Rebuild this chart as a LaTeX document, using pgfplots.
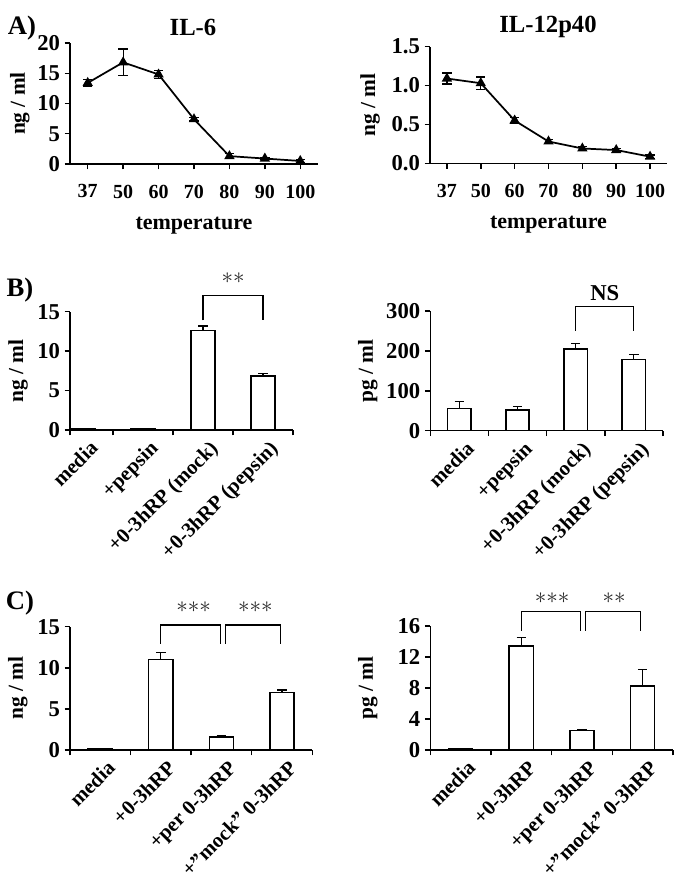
\documentclass[border=0pt]{standalone}
\usepackage{fontspec}
\setmainfont{Liberation Serif}
\usepackage{pgfplots}
\pgfplotsset{compat=1.18}
\pgfplotsset{
  base/.style={scale only axis, anchor=south west, clip=false,
    axis lines=left, axis line style={-, line width=1.1pt},
    tick style={line width=1.1pt, black}, tick align=outside,
    major tick length=4pt, minor tick length=4pt,
    /pgf/number format/assume math mode=true,
    yticklabel style={font=\fontsize{17}{17}\selectfont\bfseries},
    xticklabel style={font=\fontsize{15}{15}\selectfont\bfseries},
    xlabel style={font=\fontsize{16.5}{16.5}\selectfont\bfseries},
    ymin=0},
  ylab/.style={ylabel style={at={(axis description cs:#1,0.5)}, anchor=center,
    font=\fontsize{16}{16}\selectfont\bfseries}},
  lineax/.style={base, xmin=-0.5, xmax=6.5, xtick={0,...,6},
    xticklabels={37,50,60,70,80,90,100}, xlabel={temperature},
    xticklabel style={yshift=-8pt}, xlabel shift=7pt},
  linepl/.style={black, line width=1.3pt, mark=triangle*, mark size=3.2pt,
    mark options={fill=black, solid},
    error bars/.cd, y dir=both, y explicit,
    error bar style={line width=0.9pt},
    error mark options={rotate=90, mark size=3.5pt, line width=0.9pt}},
  barax/.style={base, xmin=-0.5, xmax=3.5, xtick={0,...,3},
    major x tick style={draw=none}, minor xtick={-0.5,0.5,1.5,2.5,3.5},
    xticklabel style={rotate=45, anchor=north east, inner sep=1pt,
      yshift=-4pt, xshift=2pt,
      font=\fontsize{15.5}{15.5}\selectfont\bfseries}},
  barpl/.style={ybar, bar width=0.4, fill=white, draw=black, line width=1.1pt,
    error bars/.cd, y dir=plus, y explicit,
    error bar style={line width=0.9pt},
    error mark options={rotate=90, mark size=3.5pt, line width=0.9pt}}
}
\tikzset{brk/.style={line width=0.9pt}, star/.style={font=\LARGE, text=black!85}}
\newcommand{\sst}{\mathord{\ast}}
\begin{document}
\begin{tikzpicture}
\useasboundingbox (0,0) rectangle (514.5pt,662.25pt);
% ---------- A left
\begin{axis}[lineax, ylab=-0.202, at={(52.5pt,539.25pt)}, width=186pt, height=90.75pt,
  ymax=20, ytick={0,5,...,20}, ylabel={ng / ml}]
\addplot[linepl] table[x=x, y=y, y error=e] {
x y e
0 13.4 0.5
1 16.8 2.2
2 14.8 0.7
3 7.4 0.3
4 1.3 0.4
5 0.9 0.2
6 0.5 0.2
};
\end{axis}
% ---------- A right
\begin{axis}[lineax, ylab=-0.253, at={(322.5pt,539.8pt)}, width=177.75pt, height=87.45pt,
  ymax=1.5, ytick={0,0.5,1,1.5}, ylabel={ng / ml},
  yticklabel style={/pgf/number format/.cd, fixed, fixed zerofill, precision=1}]
\addplot[linepl] table[x=x, y=y, y error=e] {
x y e
0 1.09 0.07
1 1.03 0.08
2 0.55 0.04
3 0.28 0.03
4 0.19 0.03
5 0.17 0.02
6 0.085 0.02
};
\end{axis}
% ---------- B left
\begin{axis}[barax, ylab=-0.233, xmin=-0.22, minor xtick={-0.22,0.5,1.5,2.5,3.5},
  at={(52.5pt,339.75pt)}, width=167.25pt, height=88.7pt,
  ymax=15, ytick={0,5,10,15}, ylabel={ng / ml},
  xticklabels={media,+pepsin,+0-3hRP (mock),+0-3hRP (pepsin)}]
\addplot[barpl] table[x=x, y=y, y error=e] {
x y e
0 0.18 0
1 0.18 0
2 12.6 0.6
3 6.85 0.35
};
\draw[brk] (axis cs:2,13.9) -- (axis cs:2,17.1) -- (axis cs:3,17.1) -- (axis cs:3,13.9);
\node[star] at (axis cs:2.5,19.2) {$\sst\sst$};
\end{axis}
% ---------- B right
\begin{axis}[barax, ylab=-0.268, at={(322.7pt,339.2pt)}, width=174.5pt, height=89.8pt,
  ymax=300, ytick={0,100,200,300}, ylabel={pg / ml},
  xticklabels={media,+pepsin,+0-3hRP (mock),+0-3hRP (pepsin)}]
\addplot[barpl] table[x=x, y=y, y error=e] {
x y e
0 56 17
1 52 8
2 205 13
3 179 11
};
\draw[brk] (axis cs:2,251) -- (axis cs:2,311) -- (axis cs:3,311) -- (axis cs:3,251);
\node[font=\fontsize{17}{17}\selectfont\bfseries] at (axis cs:2.5,346) {NS};
\end{axis}
% ---------- C left
\begin{axis}[barax, ylab=-0.215, at={(52.5pt,99.75pt)}, width=181.7pt, height=92.5pt,
  ymax=15, ytick={0,5,10,15}, ylabel={ng / ml},
  xticklabels={media,+0-3hRP,+per 0-3hRP,+''mock'' 0-3hRP}]
\addplot[barpl] table[x=x, y=y, y error=e] {
x y e
0 0.2 0
1 11.0 0.9
2 1.6 0.15
3 7.0 0.3
};
\draw[brk] (axis cs:1,12.9) -- (axis cs:1,15.2) -- (axis cs:1.98,15.2) -- (axis cs:1.98,12.9);
\draw[brk] (axis cs:2.07,12.9) -- (axis cs:2.07,15.2) -- (axis cs:2.98,15.2) -- (axis cs:2.98,12.9);
\node[star] at (axis cs:1.54,17.4) {$\sst\sst\sst$};
\node[star] at (axis cs:2.56,17.4) {$\sst\sst\sst$};
\end{axis}
% ---------- C right
\begin{axis}[barax, ylab=-0.257, at={(322.7pt,99.75pt)}, width=182pt, height=93pt,
  ymax=16, ytick={0,4,8,12,16}, ylabel={pg / ml},
  xticklabels={media,+0-3hRP,+per 0-3hRP,+''mock'' 0-3hRP}]
\addplot[barpl] table[x=x, y=y, y error=e] {
x y e
0 0.18 0
1 13.4 1.1
2 2.5 0.12
3 8.26 2.1
};
\draw[brk] (axis cs:1,15.4) -- (axis cs:1,17.85) -- (axis cs:1.98,17.85) -- (axis cs:1.98,15.4);
\draw[brk] (axis cs:2.06,15.4) -- (axis cs:2.06,17.85) -- (axis cs:2.97,17.85) -- (axis cs:2.97,15.4);
\node[star] at (axis cs:1.51,19.6) {$\sst\sst\sst$};
\node[star] at (axis cs:2.53,19.6) {$\sst\sst$};
\end{axis}
% ---------- titles and panel letters
\node[font=\fontsize{18.5}{18.5}\selectfont\bfseries] at (144.75pt,642pt) {IL-6};
\node[font=\fontsize{18.5}{18.5}\selectfont\bfseries] at (411pt,642pt) {IL-12p40};
\node[font=\fontsize{20}{20}\selectfont\bfseries] at (16.5pt,641.25pt) {A)};
\node[font=\fontsize{20}{20}\selectfont\bfseries] at (15pt,444.75pt) {B)};
\node[font=\fontsize{20}{20}\selectfont\bfseries] at (15pt,210pt) {C)};
\end{tikzpicture}
\end{document}
